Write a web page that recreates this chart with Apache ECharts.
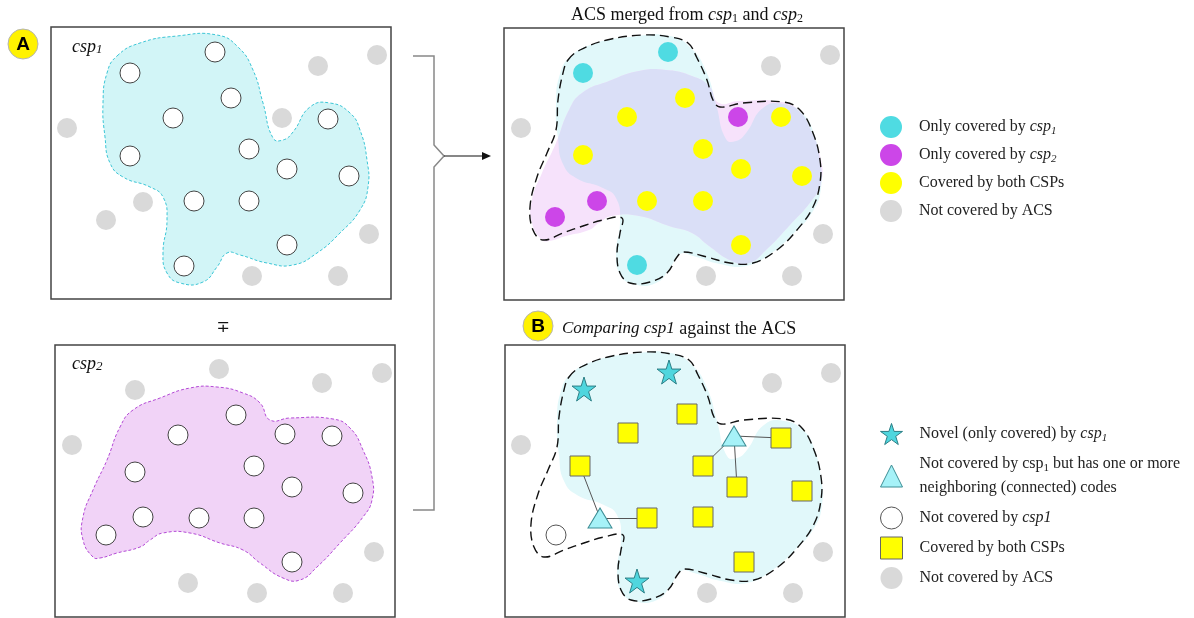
<!DOCTYPE html>
<html><head><meta charset="utf-8">
<script src="https://cdn.jsdelivr.net/npm/echarts@6/dist/echarts.min.js"></script>
<style>html,body{margin:0;padding:0;background:#fff}#c{width:1194px;height:618px}</style>
</head><body><div id="c"></div><script>
// ---- Panel A, csp1 (local panel units, x right, y down) ----
const a1Covered = [[79,46],[164,25],[180,71],[122,91],[79,129],[198,122],[277,92],[236,142],[298,149],[143,174],[198,174],[236,218],[133,239]];
const a1NotCovered = [[267,39],[326,28],[16,101],[231,91],[92,175],[55,193],[318,207],[201,249],[287,249]];
const csp1Region = [[66,29],[89,16],[126,9],[166,8],[187,20],[202,43],[212,76],[222,111],[232,113],[242,105],[259,80],[279,76],[299,86],[309,103],[316,133],[317,160],[309,183],[289,206],[266,226],[242,238],[216,236],[189,228],[176,226],[166,240],[152,255],[129,256],[116,246],[112,226],[116,193],[112,170],[99,160],[72,150],[59,136],[54,110],[52,76],[56,46]];
// ---- Panel A, csp2 ----
const a2Covered = [[181,70],[123,90],[230,89],[277,91],[80,127],[199,121],[237,142],[298,148],[88,172],[144,173],[199,173],[51,190],[237,217]];
const a2NotCovered = [[164,24],[80,45],[267,38],[327,28],[17,100],[319,207],[133,238],[202,248],[288,248]];
const csp2Region = [[38,212],[28,195],[28,172],[38,145],[52,115],[65,82],[78,65],[105,53],[135,43],[162,42],[188,48],[205,58],[215,75],[235,73],[278,74],[295,83],[308,105],[317,132],[317,155],[308,172],[285,198],[262,222],[245,235],[228,233],[205,218],[188,205],[165,198],[135,188],[108,188],[95,195],[85,202],[62,208],[45,213]];
// ---- ACS merged ----
const acsOnly1 = [[79,45],[164,24],[133,237]];
const acsOnly2 = [[234,89],[93,173],[51,189]];
const acsBoth = [[181,70],[123,89],[79,127],[199,121],[277,89],[237,141],[298,148],[143,173],[199,173],[237,217]];
const acsNot = [[267,38],[326,27],[17,100],[319,206],[202,248],[288,248]];
const acsOutline = [[64,32],[76,22],[103,12],[139,7],[166,9],[184,15],[193,30],[203,52],[209,72],[216,79],[239,75],[279,74],[296,82],[309,105],[316,132],[316,155],[309,179],[293,202],[273,222],[249,235],[226,235],[203,229],[179,224],[173,229],[163,245],[146,254],[126,255],[116,245],[113,225],[116,205],[118,190],[99,192],[76,199],[59,205],[39,212],[29,202],[26,179],[33,149],[43,125],[52,102],[54,72],[59,45]];
// ---- Panel B ----
const bNovel = [[79,44],[164,27],[132,236]];
const bNeighbor = [[229,91],[95,173]];
const bNotCsp1 = [[51,190]];
const bBoth = [[182,69],[123,88],[75,121],[198,121],[276,93],[232,142],[297,146],[142,173],[198,172],[239,217]];
const bNot = [[267,38],[326,28],[16,100],[318,207],[202,248],[288,248]];
const bEdges = [[0,3],[0,4],[0,5],[1,2],[1,7]];

const SERIF = 'Liberation Serif';
const STAR = 'path://M50,2 L61,36 L97,36 L68,57 L79,92 L50,71 L21,92 L32,57 L3,36 L39,36 Z';
const panels = [{left:51,top:27},{left:55,top:345},{left:504,top:28},{left:505,top:345}];
const W = 340, H = 272;

const legendLabels = {
  acs1: 'Only covered by {i|csp}{s|1}',
  acs2: 'Only covered by {i|csp}{s|2}',
  acsBoth: 'Covered by both CSPs',
  acsNot: 'Not covered by ACS',
  bNovel: 'Novel (only covered) by {i|csp}{s|1}',
  bNeighbor: 'Not covered by csp{t|1} but has one or more\nneighboring (connected) codes',
  bNot1: 'Not covered by {i|csp1}',
  bBoth: 'Covered by both CSPs',
  bNot: 'Not covered by ACS'
};

function region(idx, pts, fill, stroke, dash, width, z, smooth, clipPts) {
  return {
    type: 'custom', xAxisIndex: idx, yAxisIndex: idx, silent: true, z: z, clip: false,
    data: [[0, 0]],
    renderItem: function (params, api) {
      const el = {
        type: 'polygon',
        shape: { points: pts.map(p => api.coord(p)), smooth: smooth },
        style: { fill: fill, stroke: stroke, lineWidth: width, lineDash: dash }
      };
      if (clipPts) {
        el.clipPath = { type: 'polygon', shape: { points: clipPts.map(p => api.coord(p)), smooth: smooth } };
      }
      return el;
    }
  };
}
function dots(idx, name, data, opts) {
  const o = Object.assign({
    type: 'scatter', name: name, xAxisIndex: idx, yAxisIndex: idx, data: data,
    symbol: 'circle', symbolSize: 20, z: 5, silent: true, emphasis: { disabled: true }
  }, opts);
  o.itemStyle = Object.assign({ opacity: 1 }, o.itemStyle);
  return o;
}

const richLegend = {
  i: { fontFamily: SERIF, fontSize: 16, fontStyle: 'italic', color: '#222', lineHeight: 24 },
  s: { fontFamily: SERIF, fontSize: 11, fontStyle: 'italic', color: '#222', lineHeight: 24, padding: [8, 0, 0, 0] },
  t: { fontFamily: SERIF, fontSize: 11, color: '#222', lineHeight: 24, padding: [8, 0, 0, 0] }
};
function legendBlock(top, names, icons) {
  return {
    orient: 'vertical', left: 880, top: top, itemWidth: 22, itemHeight: 22, itemGap: top < 300 ? 4 : 6,
    selectedMode: false, padding: 0,
    itemStyle: { borderWidth: 1 },
    data: names.map((n, k) => ({ name: n, icon: icons[k] })),
    formatter: n => legendLabels[n],
    textStyle: { fontFamily: SERIF, fontSize: 16, color: '#222', lineHeight: 24, padding: [0, 0, 0, 12], rich: richLegend }
  };
}

const chart = echarts.init(document.getElementById('c'), null, { renderer: 'canvas' });
chart.setOption({
  animation: false,
  backgroundColor: '#fff',
  grid: panels.map(p => ({ left: p.left, top: p.top, width: W, height: H, show: true, borderColor: '#444', borderWidth: 1.5, backgroundColor: '#fff' })),
  xAxis: panels.map((p, i) => ({ gridIndex: i, type: 'value', min: 0, max: W, show: false })),
  yAxis: panels.map((p, i) => ({ gridIndex: i, type: 'value', min: 0, max: H, inverse: true, show: false })),
  legend: [
    legendBlock(115, ['acs1', 'acs2', 'acsBoth', 'acsNot'], ['circle', 'circle', 'circle', 'circle']),
    legendBlock(422, ['bNovel', 'bNeighbor', 'bNot1', 'bBoth', 'bNot'], [STAR, 'triangle', 'circle', 'rect', 'circle'])
  ],
  series: [
    // A1
    region(0, csp1Region, '#d2f5f7', '#3cc6d6', [3, 2], 1, 1, 0.5),
    dots(0, 'a1c', a1Covered, { itemStyle: { color: '#fff', borderColor: '#444', borderWidth: 1 } }),
    dots(0, 'a1n', a1NotCovered, { itemStyle: { color: '#d9d9d9' } }),
    // A2
    region(1, csp2Region, '#f1d3f7', '#b44ad6', [3, 2], 1, 1, 0.5),
    dots(1, 'a2c', a2Covered, { itemStyle: { color: '#fff', borderColor: '#444', borderWidth: 1 } }),
    dots(1, 'a2n', a2NotCovered, { itemStyle: { color: '#d9d9d9' } }),
    // ACS: csp1 area, csp2 area, and their overlap
    region(2, csp1Region, '#e1f8fa', null, null, 0, 1, 0.5),
    region(2, csp2Region, '#f6e2fb', null, null, 0, 1, 0.5),
    region(2, csp1Region, '#dadff7', null, null, 0, 1, 0.5, csp2Region),
    region(2, acsOutline, 'none', '#111', [9, 5], 1.4, 2, 0.4),
    dots(2, 'acs1', acsOnly1, { itemStyle: { color: '#4fdbe2' } }),
    dots(2, 'acs2', acsOnly2, { itemStyle: { color: '#cc46e8' } }),
    dots(2, 'acsBoth', acsBoth, { itemStyle: { color: '#ffff00' } }),
    dots(2, 'acsNot', acsNot, { itemStyle: { color: '#d9d9d9' } }),
    // B
    region(3, csp1Region, '#e1f8fa', null, null, 0, 1, 0.5),
    region(3, acsOutline, 'none', '#111', [9, 5], 1.4, 2, 0.4),
    {
      type: 'lines', coordinateSystem: 'cartesian2d', xAxisIndex: 3, yAxisIndex: 3, silent: true, z: 3,
      lineStyle: { color: '#555', width: 1, opacity: 1 },
      data: bEdges.map(e => ({ coords: [bNeighbor[e[0]], bBoth[e[1]]] }))
    },
    dots(3, 'bNovel', bNovel, { symbol: STAR, symbolSize: 24, itemStyle: { color: '#4fd6de', borderColor: '#2d7f86', borderWidth: 1 } }),
    dots(3, 'bNeighbor', bNeighbor, { symbol: 'triangle', symbolSize: [24, 20], itemStyle: { color: '#a6f2f8', borderColor: '#3d8e95', borderWidth: 1 } }),
    dots(3, 'bNot1', bNotCsp1, { itemStyle: { color: '#fff', borderColor: '#555', borderWidth: 1 } }),
    dots(3, 'bBoth', bBoth, { symbol: 'rect', symbolSize: 20, itemStyle: { color: '#ffff00', borderColor: '#666', borderWidth: 1 } }),
    dots(3, 'bNot', bNot, { itemStyle: { color: '#d9d9d9' } })
  ],
  graphic: [
    { type: 'circle', shape: { cx: 23, cy: 44, r: 15 }, style: { fill: '#fff200', stroke: '#b5b5b5', lineWidth: 1 }, z: 10 },
    { type: 'text', x: 23, y: 45, style: { text: 'A', fill: '#000', font: 'bold 19px "Liberation Sans"', align: 'center', verticalAlign: 'middle' }, z: 11 },
    { type: 'circle', shape: { cx: 538, cy: 326, r: 15 }, style: { fill: '#fff200', stroke: '#b5b5b5', lineWidth: 1 }, z: 10 },
    { type: 'text', x: 538, y: 327, style: { text: 'B', fill: '#000', font: 'bold 19px "Liberation Sans"', align: 'center', verticalAlign: 'middle' }, z: 11 },
    { type: 'text', x: 72, y: 47, z: 10, style: { text: '{i|csp}{s|1}', verticalAlign: 'middle', rich: {
      i: { fontFamily: SERIF, fontSize: 18, fontStyle: 'italic', fill: '#111', lineHeight: 24 },
      s: { fontFamily: SERIF, fontSize: 13, fontStyle: 'italic', fill: '#111', lineHeight: 24, padding: [6, 0, 0, 0] } } } },
    { type: 'text', x: 72, y: 364, z: 10, style: { text: '{i|csp}{s|2}', verticalAlign: 'middle', rich: {
      i: { fontFamily: SERIF, fontSize: 18, fontStyle: 'italic', fill: '#111', lineHeight: 24 },
      s: { fontFamily: SERIF, fontSize: 13, fontStyle: 'italic', fill: '#111', lineHeight: 24, padding: [6, 0, 0, 0] } } } },
    { type: 'text', x: 223, y: 328, z: 10, style: { text: '\u2213', fill: '#111', font: '16px "DejaVu Sans"', align: 'center', verticalAlign: 'middle' } },
    { type: 'text', x: 687, y: 15, z: 10, style: { text: '{n|ACS merged from }{i|csp}{s|1}{n| and }{i|csp}{s|2}', align: 'center', verticalAlign: 'middle', rich: {
      n: { fontFamily: SERIF, fontSize: 18, fill: '#111', lineHeight: 24 },
      i: { fontFamily: SERIF, fontSize: 18, fontStyle: 'italic', fill: '#111', lineHeight: 24 },
      s: { fontFamily: SERIF, fontSize: 12, fill: '#111', lineHeight: 24, padding: [7, 0, 0, 0] } } } },
    { type: 'text', x: 562, y: 329, z: 10, style: { text: '{i|Comparing csp1}{n| against the ACS}', align: 'left', verticalAlign: 'middle', rich: {
      n: { fontFamily: SERIF, fontSize: 18, fill: '#111', lineHeight: 24 },
      i: { fontFamily: SERIF, fontSize: 17, fontStyle: 'italic', fill: '#111', lineHeight: 24 } } } },
    { type: 'polyline', z: 10, shape: { points: [[413, 56], [434, 56], [434, 145], [444, 156], [434, 167], [434, 510], [413, 510]] }, style: { stroke: '#888', lineWidth: 1.5, fill: null } },
    { type: 'line', z: 10, shape: { x1: 444, y1: 156, x2: 484, y2: 156 }, style: { stroke: '#111', lineWidth: 1.2 } },
    { type: 'polygon', z: 10, shape: { points: [[482, 152], [491, 156], [482, 160]] }, style: { fill: '#111' } }
  ]
});
</script></body></html>
